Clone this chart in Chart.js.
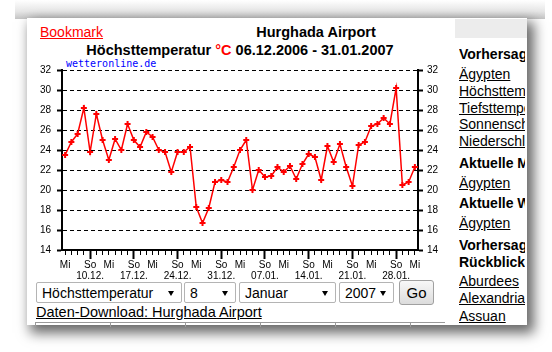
<!DOCTYPE html>
<html><head><meta charset="utf-8">
<script src="https://cdn.jsdelivr.net/npm/chart.js@4"></script>
<style>
body{margin:0;width:552px;height:352px;overflow:hidden;background:#fff;position:relative;font-family:'Liberation Sans',Arial,sans-serif;}
.a{position:absolute;white-space:nowrap;line-height:16px;font-size:14px;color:#000;}
.u{text-decoration:underline;}
.b{font-weight:bold;}
.sel{position:absolute;top:282px;height:21px;border:1px solid #b4b4b4;border-radius:2px;background:#fff;font-size:14px;line-height:21px;box-sizing:border-box;padding-left:5px;}
.sel i{position:absolute;right:7px;top:8px;width:0;height:0;border-left:3.5px solid transparent;border-right:3.5px solid transparent;border-top:5px solid #000;}
#c{position:absolute;left:0;top:0;width:552px;height:352px;z-index:5;pointer-events:none;}
</style></head>
<body>
<div style="position:absolute;left:15px;top:0;width:530px;height:19px;background:linear-gradient(#ffffff,#e6e6e6 60%,#c4c4c4)"></div>
<div style="position:absolute;left:27px;top:18px;width:500px;height:307px;background:#fff;box-shadow:5px 6px 12px 2px rgba(0,0,0,0.6)"></div>
<div style="position:absolute;left:455px;top:19px;width:72px;height:19px;background:#ececec"></div>

<div class="a u" style="left:40px;top:24px;color:#ff0000">Bookmark</div>
<div class="a b" style="left:200px;top:24px;width:232px;text-align:center;font-size:14.5px">Hurghada Airport</div>
<div class="a b" style="left:40px;top:42px;width:400px;text-align:center;font-size:14.5px">Höchsttemperatur <span style="color:#ff0000">°C</span> 06.12.2006 - 31.01.2007</div>
<div class="a" style="left:66px;top:58px;font-family:'DejaVu Sans Mono',monospace;font-size:10px;line-height:12px;color:#0000ff">wetteronline.de</div>

<div class="sel" style="left:36px;width:146px">Höchsttemperatur<i></i></div>
<div class="sel" style="left:184px;width:52px">8<i></i></div>
<div class="sel" style="left:239px;width:97px">Januar<i></i></div>
<div class="sel" style="left:339px;width:55px">2007<i></i></div>
<div style="position:absolute;left:399px;top:280px;width:35px;height:25px;box-sizing:border-box;border:1px solid #a0a0a0;border-radius:3px;background:linear-gradient(#f8f8f8,#dcdcdc);font-size:15px;line-height:23px;text-align:center">Go</div>
<div class="a u" style="left:36px;top:304px;font-size:14.5px">Daten-Download: Hurghada Airport</div>
<div style="position:absolute;left:35px;top:322px;width:410px;height:4px;border-top:1px solid #9a9a9a;background:repeating-linear-gradient(90deg,#9a9a9a 0 1px,transparent 1px 75px)"></div>

<div style="position:absolute;left:459px;top:40px;width:66px;height:290px;overflow:hidden">
<div class="a b" style="left:0;top:6px">Vorhersage</div>
<div class="a u" style="left:0;top:26px">Ägypten</div>
<div class="a u" style="left:0;top:43px">Höchsttemperatur</div>
<div class="a u" style="left:0;top:60px">Tiefsttemperatur</div>
<div class="a u" style="left:0;top:76px">Sonnenschein</div>
<div class="a u" style="left:0;top:93px">Niederschlag</div>
<div class="a b" style="left:0;top:115px">Aktuelle Messwerte</div>
<div class="a u" style="left:0;top:135px">Ägypten</div>
<div class="a b" style="left:0;top:155px">Aktuelle Wetterlage</div>
<div class="a u" style="left:0;top:175px">Ägypten</div>
<div class="a b" style="left:0;top:197px">Vorhersage &amp;</div>
<div class="a b" style="left:0;top:214px">Rückblick</div>
<div class="a u" style="left:0;top:233px">Aburdees</div>
<div class="a u" style="left:0;top:250px">Alexandria</div>
<div class="a u" style="left:0;top:268px">Assuan</div>
</div>

<canvas id="c" width="552" height="352"></canvas>
<script>
const dates = ["06.12.","07.12.","08.12.","09.12.","10.12.","11.12.","12.12.","13.12.","14.12.","15.12.",
"16.12.","17.12.","18.12.","19.12.","20.12.","21.12.","22.12.","23.12.","24.12.","25.12.",
"26.12.","27.12.","28.12.","29.12.","30.12.","31.12.","01.01.","02.01.","03.01.","04.01.",
"05.01.","06.01.","07.01.","08.01.","09.01.","10.01.","11.01.","12.01.","13.01.","14.01.",
"15.01.","16.01.","17.01.","18.01.","19.01.","20.01.","21.01.","22.01.","23.01.","24.01.",
"25.01.","26.01.","27.01.","28.01.","29.01.","30.01.","31.01."];
const weekdays = ["Mi","Do","Fr","Sa","So","Mo","Di","Mi","Do","Fr","Sa","So","Mo","Di",
"Mi","Do","Fr","Sa","So","Mo","Di","Mi","Do","Fr","Sa","So","Mo","Di",
"Mi","Do","Fr","Sa","So","Mo","Di","Mi","Do","Fr","Sa","So","Mo","Di",
"Mi","Do","Fr","Sa","So","Mo","Di","Mi","Do","Fr","Sa","So","Mo","Di","Mi"];
const tmax = [23.5,24.8,25.6,28.2,23.8,27.6,25.0,23.0,25.1,24.0,
26.6,25.0,24.3,25.8,25.3,24.0,23.8,21.8,23.8,23.8,
24.3,18.3,16.7,18.2,20.8,21.0,20.8,22.3,24.0,25.0,
20.0,22.0,21.3,21.4,22.3,21.8,22.4,21.1,22.6,23.6,
23.3,21.0,24.4,22.8,24.6,22.3,20.4,24.5,24.8,26.4,
26.6,27.2,26.6,30.2,20.5,20.8,22.3];
const yMin = 14, yMax = 32, yStep = 2;

const tickFont = {family:"'Liberation Sans', Arial, sans-serif", size:10, lineHeight:1.15};
const yAxis = (pos, width, pad, onArea) => ({
  position: pos, min: yMin, max: yMax,
  ticks: {stepSize: yStep, padding: pad, color: '#000', font: tickFont},
  grid: {drawOnChartArea: onArea, color: '#000', lineWidth: 1, tickLength: 5, tickWidth: 2, tickColor: '#000'},
  border: {color: '#000', width: 2, dash: [4, 3]},
  afterFit: s => { s.width = width; }
});

new Chart(document.getElementById('c'), {
  type: 'line',
  data: {labels: dates, datasets: [{
    data: tmax, borderColor: '#ff0000', borderWidth: 1.5, tension: 0, fill: false,
    pointStyle: 'cross', pointRadius: 3, pointBorderWidth: 2,
    pointBorderColor: '#ff0000', pointBackgroundColor: '#ff0000'
  }]},
  options: {
    responsive: false, animation: false, devicePixelRatio: 1,
    layout: {padding: {top: 70, left: 0, right: 0, bottom: 0}},
    plugins: {legend: {display: false}, tooltip: {enabled: false}},
    scales: {
      x: {
        type: 'category', offset: true,
        grid: {offset: false, drawOnChartArea: false, tickLength: 9, tickColor: '#000',
          tickWidth: c => weekdays[c.index] === 'So' ? 2 : 1,
          tickBorderDash: c => weekdays[c.index] === 'So' ? [] : [4, 40]},
        border: {color: '#000', width: 2},
        ticks: {autoSkip: false, maxRotation: 0, minRotation: 0, padding: 0, color: '#000', font: tickFont,
          callback: (v, i) => weekdays[i] === 'Mi' ? 'Mi' : (weekdays[i] === 'So' ? ['So', dates[i]] : '')},
        afterFit: s => { s.height = 102; }
      },
      y: yAxis('left', 62, 6, true),
      y2: yAxis('right', 134, 4, false)
    }
  }
});
</script>
</body></html>
